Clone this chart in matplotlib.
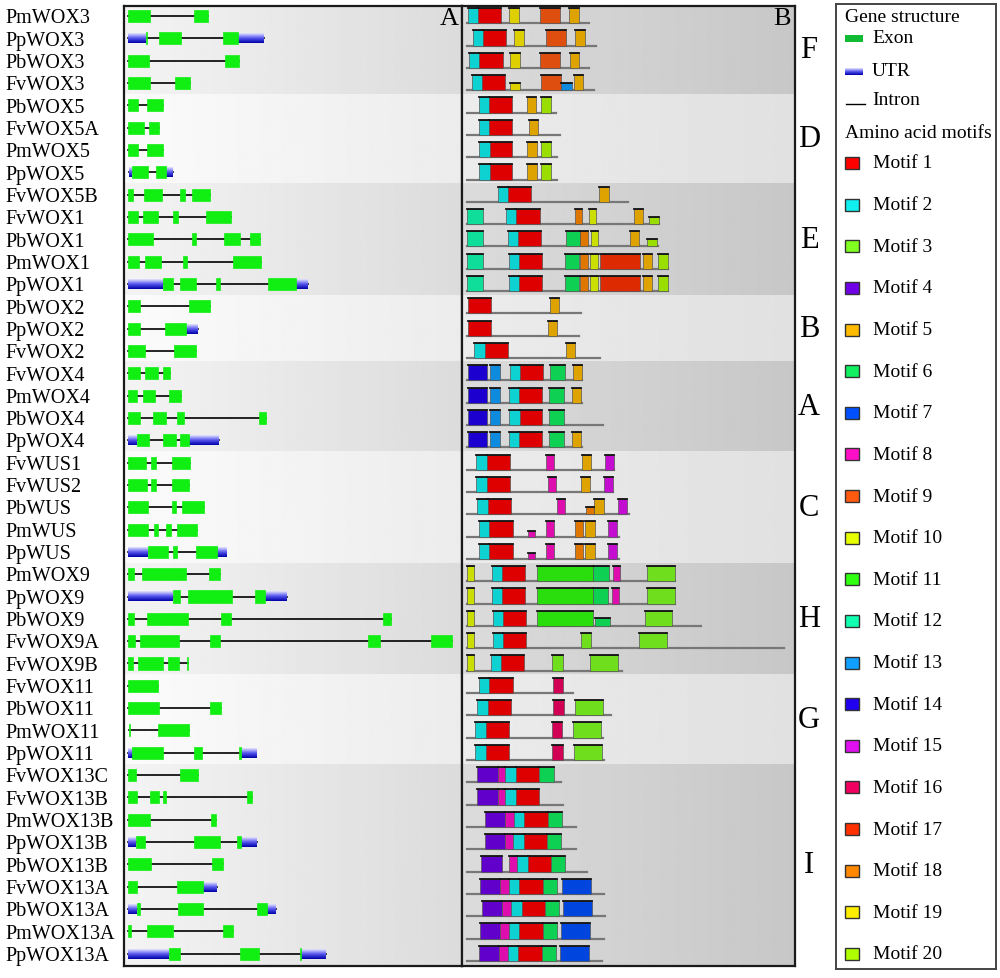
import numpy as np
import matplotlib
matplotlib.use('Agg')
import matplotlib.pyplot as plt
from matplotlib.patches import Rectangle
from matplotlib.colors import LinearSegmentedColormap, to_rgb
import matplotlib.transforms as mtransforms

plt.rcParams['font.family'] = ['Liberation Serif', 'DejaVu Serif']

# gene names, top to bottom
genes = ['PmWOX3', 'PpWOX3', 'PbWOX3', 'FvWOX3',
         'PbWOX5', 'FvWOX5A', 'PmWOX5', 'PpWOX5',
         'FvWOX5B', 'FvWOX1', 'PbWOX1', 'PmWOX1', 'PpWOX1',
         'PbWOX2', 'PpWOX2', 'FvWOX2',
         'FvWOX4', 'PmWOX4', 'PbWOX4', 'PpWOX4',
         'FvWUS1', 'FvWUS2', 'PbWUS', 'PmWUS', 'PpWUS',
         'PmWOX9', 'PpWOX9', 'PbWOX9', 'FvWOX9A', 'FvWOX9B',
         'FvWOX11', 'PbWOX11', 'PmWOX11', 'PpWOX11',
         'FvWOX13C', 'FvWOX13B', 'PmWOX13B', 'PpWOX13B', 'PbWOX13B',
         'FvWOX13A', 'PbWOX13A', 'PmWOX13A', 'PpWOX13A']
groups = ['F', 'D', 'E', 'B', 'A', 'C', 'H', 'G', 'I']
group_sizes = [4, 4, 5, 3, 4, 5, 5, 4, 9]

# gene structure (relative position along gene)
exons = [
    [(0, 22), (66, 80)],
    [(17.5, 18.5), (31, 53), (95, 110)],
    [(0, 21), (97, 111)],
    [(0, 22), (47, 62)],
    [(0, 9.5), (18.5, 34.5)],
    [(0, 16), (21, 31)],
    [(0, 9.5), (18.5, 35)],
    [(3.5, 20), (28, 38)],
    [(0, 4.7), (16, 34), (52, 57), (63.5, 81.5)],
    [(0, 9.5), (14.5, 29.5), (45, 50), (78, 103)],
    [(0, 25), (63.5, 67.5), (96, 112), (122, 131.5)],
    [(0, 10.5), (17, 33), (54.5, 58.5), (104.5, 132.5)],
    [(35, 45), (51.5, 68), (88, 92), (140, 168)],
    [(0, 11.7), (60.5, 81.5)],
    [(0, 12), (37, 57.5)],
    [(0, 16.7), (46, 68)],
    [(0, 12), (17, 29.7), (34.5, 42)],
    [(0, 8.5), (14.5, 27), (40.5, 52.5)],
    [(0, 12), (24.5, 37.5), (48.5, 55.5), (131, 137.5)],
    [(8.5, 21), (34.5, 47.5), (52, 61)],
    [(0, 18), (22.5, 27.5), (43.5, 61.5)],
    [(0, 18.5), (23, 27.5), (43.5, 61)],
    [(0, 20), (43.5, 47.5), (53.5, 75.5)],
    [(0, 19.5), (25.5, 29.5), (38, 42.5), (48.5, 68.5)],
    [(20, 40), (45, 49), (68, 88.5)],
    [(0, 5.7), (14.3, 57.5), (81, 92)],
    [(45, 51.7), (60.3, 103.7), (127, 137)],
    [(0, 5.7), (18.7, 60.3), (93, 103), (255.3, 262.7)],
    [(0, 6.7), (12, 51.3), (82, 92), (239.7, 252), (303, 323.7)],
    [(0, 5), (9.7, 35.3), (40.3, 51), (59.3, 60.3)],
    [(0, 30.3)],
    [(0, 31), (82, 92.7)],
    [(0.7, 2.3), (30.3, 61)],
    [(4.3, 35.3), (66, 74.3), (111.3, 112.7)],
    [(0, 8.3), (52, 69.7)],
    [(0, 9), (22, 31), (35.3, 38), (118.7, 124.3)],
    [(0, 21.7), (83, 88)],
    [(7.7, 17), (66.3, 92), (108.7, 112.7)],
    [(0, 22.7), (83.7, 95.3)],
    [(0, 9), (49.3, 74.7)],
    [(9, 12.3), (49.7, 74.7), (129.3, 139.3)],
    [(0, 3.3), (19.3, 45.3), (95.3, 104.7)],
    [(41, 52), (112, 131.3), (172, 173)],
]
utrs = [
    [], [(0, 17.5), (110, 136)], [], [],
    [], [], [], [(1, 3.5), (38, 44.5)],
    [], [], [], [], [(0, 35), (168, 180)],
    [], [(57.5, 69.5)], [],
    [], [], [], [(0, 8.5), (61, 90.5)],
    [], [], [], [], [(0, 20), (88.5, 98)],
    [], [(0, 45), (137, 158.7)], [], [], [],
    [], [], [], [(0, 4.3), (112.7, 128)],
    [], [], [], [(0, 7.7), (112.7, 128.7)], [],
    [(74.7, 88.7)], [(0, 9), (139.3, 147.7)], [], [(0, 41), (173, 198)],
]

# protein length and motifs: (motif no., start, end[, relative height])
protein_len = [122, 129, 122, 127, 89, 93, 90, 90, 161, 192, 191, 201, 201,
               114, 112, 133, 115, 115, 136, 115, 147, 146, 162, 152, 152,
               208, 208, 234, 317, 155, 106, 144, 136, 137,
               94, 96, 109, 109, 120, 137, 138, 137, 135]
motifs = [
    [(2, 1, 11), (1, 11, 34), (19, 42, 52), (9, 73, 93), (5, 102, 112)],
    [(2, 6, 16), (1, 16, 39), (19, 47, 57), (9, 79, 99), (5, 108, 118)],
    [(2, 2, 12), (1, 12, 36), (19, 43, 53), (9, 73, 93), (5, 103, 112)],
    [(2, 5, 15), (1, 15, 38), (19, 43, 53, 0.5), (9, 74, 94), (13, 94, 105, 0.5), (5, 107, 116)],
    [(2, 12, 22), (1, 22, 45), (5, 60, 69), (20, 74, 84)],
    [(2, 12, 22), (1, 22, 45), (5, 62, 71)],
    [(2, 12, 23), (1, 23, 45), (5, 60, 70), (20, 74, 84)],
    [(2, 12, 23), (1, 23, 45), (5, 60, 70), (20, 74, 84)],
    [(2, 31, 41), (1, 41, 64), (5, 132, 142)],
    [(12, 0, 16), (2, 39, 49), (1, 49, 73), (18, 108, 115), (10, 122, 129), (5, 167, 176), (20, 182, 192, 0.5)],
    [(12, 0, 16), (2, 41, 51), (1, 51, 74), (6, 99, 113), (18, 113, 121), (10, 124, 131), (5, 163, 172), (20, 180, 190, 0.5)],
    [(12, 0, 16), (2, 42, 52), (1, 52, 75), (6, 98, 112), (18, 113, 121), (10, 123, 131), (17, 133, 173), (5, 176, 185), (20, 191, 201)],
    [(12, 0, 16), (2, 42, 52), (1, 52, 75), (6, 98, 112), (18, 113, 121), (10, 123, 131), (17, 133, 173), (5, 176, 185), (20, 191, 201)],
    [(1, 1, 24), (5, 83, 92)],
    [(1, 1, 24), (5, 81, 90)],
    [(2, 7, 18), (1, 18, 41), (5, 99, 108)],
    [(14, 1, 20), (13, 23, 33), (2, 43, 53), (1, 53, 76), (6, 83, 98), (5, 106, 115)],
    [(14, 1, 20), (13, 23, 33), (2, 42, 52), (1, 52, 75), (6, 82, 97), (5, 105, 114)],
    [(14, 1, 20), (13, 23, 33), (2, 42, 53), (1, 53, 75), (6, 82, 97)],
    [(14, 1, 20), (13, 23, 33), (2, 42, 52), (1, 52, 75), (6, 82, 97), (5, 105, 114)],
    [(2, 9, 20), (1, 20, 43), (8, 79, 87), (5, 115, 124), (15, 138, 147)],
    [(2, 9, 20), (1, 20, 43), (8, 81, 89), (5, 114, 123), (15, 137, 146)],
    [(2, 10, 21), (1, 21, 44), (8, 90, 98), (18, 119, 127, 0.5), (5, 127, 137), (15, 151, 160)],
    [(2, 12, 22), (1, 22, 46), (8, 61, 68, 0.4), (8, 79, 87), (18, 108, 116), (5, 118, 128), (15, 141, 150)],
    [(2, 12, 22), (1, 22, 46), (8, 61, 68, 0.4), (8, 79, 87), (18, 108, 116), (5, 118, 128), (15, 141, 150)],
    [(10, 0, 7), (2, 25, 35), (1, 35, 58), (11, 70, 126), (6, 126, 142), (8, 146, 153), (3, 180, 208)],
    [(10, 0, 7), (2, 25, 35), (1, 35, 58), (11, 70, 126), (6, 126, 141), (8, 145, 152), (3, 180, 208)],
    [(10, 0, 7), (2, 26, 36), (1, 36, 59), (11, 70, 126), (6, 128, 143, 0.5), (3, 178, 205)],
    [(10, 0, 7), (2, 26, 36), (1, 36, 59), (3, 114, 124), (3, 172, 200)],
    [(10, 0, 7), (2, 24, 34), (1, 34, 57), (3, 85, 96), (3, 123, 151)],
    [(2, 12, 22), (1, 22, 46), (16, 86, 96)],
    [(2, 10, 21), (1, 21, 44), (16, 86, 97), (3, 108, 136)],
    [(2, 8, 19), (1, 19, 42), (16, 85, 95), (3, 106, 134)],
    [(2, 8, 19), (1, 19, 42), (16, 85, 96), (3, 107, 135)],
    [(4, 10, 31), (8, 31, 38), (2, 38, 49), (1, 49, 72), (6, 72, 87)],
    [(4, 10, 31), (8, 31, 38), (2, 38, 49), (1, 49, 72)],
    [(4, 18, 38), (8, 38, 47), (2, 47, 57), (1, 57, 81), (6, 81, 95)],
    [(4, 18, 38), (8, 38, 46), (2, 46, 57), (1, 57, 80), (6, 80, 94)],
    [(4, 14, 35), (8, 42, 50), (2, 50, 61), (1, 61, 84), (6, 84, 98)],
    [(4, 13, 33), (8, 33, 42), (2, 42, 52), (1, 52, 76), (6, 76, 90), (7, 95, 124)],
    [(4, 15, 35), (8, 35, 44), (2, 44, 55), (1, 55, 78), (6, 78, 92), (7, 96, 125)],
    [(4, 13, 33), (8, 33, 42), (2, 42, 52), (1, 52, 76), (6, 76, 90), (7, 94, 123)],
    [(4, 12, 32), (8, 32, 41), (2, 41, 51), (1, 51, 75), (6, 75, 89), (7, 93, 122)],
]
motif_colors = ['#ff0000', '#10f0f0', '#80ff20', '#7000e8', '#ffbb00',
                '#10f060', '#0050ff', '#ff10c8', '#ff5a10', '#e8ff00',
                '#30ff10', '#10ffb0', '#10a0ff', '#2000ee', '#e010f0',
                '#f00060', '#ff3000', '#ff8800', '#ffee00', '#b0ff00']
bar_colors = [tuple(0.87 * c for c in to_rgb(col)) for col in motif_colors]

exon_color = '#11ee11'
utr_cmap = LinearSegmentedColormap.from_list('utr', ['#e4e4ff', '#5555ee', '#0000a8'])
utr_grad = np.linspace(0, 1, 32)[:, None]

n = len(genes)
fig = plt.figure(figsize=(10, 9.79), dpi=100)
axA = fig.add_axes([0.124, 0.0123, 0.338, 0.9805])
axB = fig.add_axes([0.462, 0.0123, 0.333, 0.9805])
axL = fig.add_axes([0.836, 0.0092, 0.160, 0.9857])

xlimA = (-4, 334)
xlimB = (-4.7, 328.3)
ylim = (n - 0.45, -0.45)


def band_bg(ax, xl, dark, light):
    row = 0
    for k, size in enumerate(group_sizes):
        c = dark if k % 2 == 0 else light
        grad = np.linspace(c[0], c[1], 256)[None, :]
        ax.imshow(grad, cmap='gray', vmin=0, vmax=1, aspect='auto',
                  extent=(xl[0], xl[1], row + size - 0.5, row - 0.5), zorder=0)
        row += size


band_bg(axA, xlimA, (0.955, 0.86), (0.985, 0.925))
band_bg(axB, xlimB, (0.86, 0.78), (0.925, 0.88))

# gene structures
for i in range(n):
    segs = exons[i] + utrs[i]
    g0 = min(s for s, e in segs)
    g1 = max(e for s, e in segs)
    axA.plot([g0, g1], [i, i], color='black', lw=1.2, zorder=2)
    for s, e in utrs[i]:
        axA.imshow(utr_grad, cmap=utr_cmap, aspect='auto', interpolation='bilinear',
                   extent=(s, e, i + 0.22, i - 0.22), zorder=3)
    for s, e in exons[i]:
        axA.add_patch(Rectangle((s, i - 0.27), e - s, 0.54, fc=exon_color,
                                ec=exon_color, lw=0.5, zorder=4))

# motifs
for i in range(n):
    base = i + 0.32
    axB.plot([0, protein_len[i]], [base, base], color='#777777', lw=1.6, zorder=2)
    for m in motifs[i]:
        k, s, e = m[:3]
        h = m[3] if len(m) > 3 else 1.0
        top = base - 0.68 * h
        axB.add_patch(Rectangle((s, top), e - s, base - top, fc=bar_colors[k - 1],
                                ec='#555555', lw=0.5, zorder=3))
        axB.plot([s, e], [top, top], color='#111111', lw=1.3, zorder=4)

for ax, xl in ((axA, xlimA), (axB, xlimB)):
    ax.set_xlim(*xl)
    ax.set_ylim(*ylim)
    ax.set_xticks([])
    ax.set_yticks([])
    for sp in ax.spines.values():
        sp.set_linewidth(1.6)
        sp.set_color('#1a1a1a')

axA.text(0.991, 0.999, 'A', transform=axA.transAxes, ha='right', va='top', fontsize=19)
axB.text(0.988, 0.999, 'B', transform=axB.transAxes, ha='right', va='top', fontsize=19)

# gene names
tr = mtransforms.blended_transform_factory(fig.transFigure, axA.transData)
for i, g in enumerate(genes):
    axA.text(0.005, i + 0.28, g, transform=tr, ha='left', va='baseline',
             fontsize=14.5, clip_on=False)

# group letters
trg = mtransforms.blended_transform_factory(fig.transFigure, axB.transData)
row = 0
for gname, size in zip(groups, group_sizes):
    mid = row + (size - 1) / 2
    axB.text(0.809, mid + 0.33, gname, transform=trg, ha='center', va='baseline',
             fontsize=22, clip_on=False)
    row += size

# legend
axL.set_xlim(836, 996)
axL.set_ylim(970, 5)
axL.set_xticks([])
axL.set_yticks([])
for sp in axL.spines.values():
    sp.set_linewidth(1.4)
    sp.set_color('#444444')
axL.text(845, 18, 'Gene structure', fontsize=14, va='center')
axL.add_patch(Rectangle((845, 36), 18, 7, fc='#11bb33', ec='none'))
axL.text(872, 39, 'Exon', fontsize=14, va='center')
axL.imshow(utr_grad, cmap=utr_cmap, aspect='auto', extent=(845, 863, 76, 70))
axL.text(872, 72, 'UTR', fontsize=14, va='center')
axL.plot([846, 865], [105, 105], color='black', lw=1)
axL.text(872, 101, 'Intron', fontsize=14, va='center')
axL.text(845, 134, 'Amino acid motifs', fontsize=14, va='center')
leg_y = np.linspace(164, 955, len(motif_colors))
for k, (col, yc) in enumerate(zip(motif_colors, leg_y)):
    axL.add_patch(Rectangle((845, yc - 6), 14, 12, fc=col, ec='#333333', lw=1))
    axL.text(873, yc, 'Motif %d' % (k + 1), fontsize=14, va='center')
axL.set_xlim(836, 996)
axL.set_ylim(970, 5)

fig.savefig('out.png', dpi=100)
